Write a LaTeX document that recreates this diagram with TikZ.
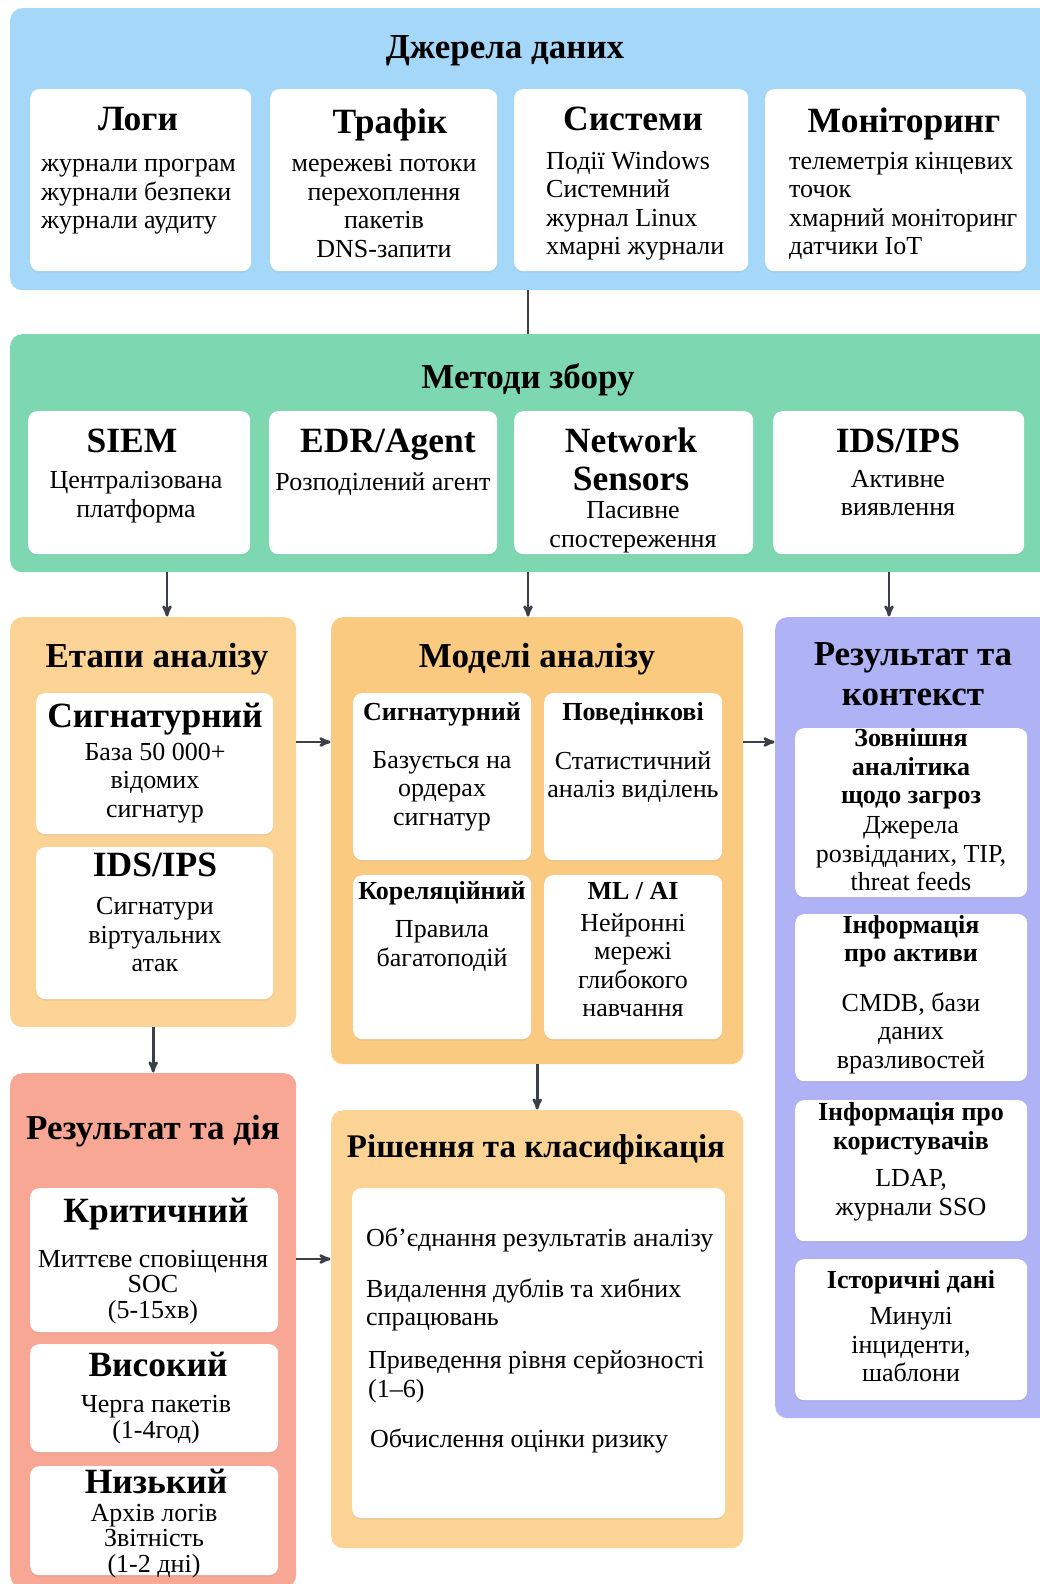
\documentclass[tikz,border=0pt]{standalone}
\usepackage{fontspec}
\setmainfont{Liberation Serif}
\usepackage{tikz}
\usetikzlibrary{arrows, positioning, shadows}

\definecolor{srcblue}{HTML}{A5D7F8}
\definecolor{colgreen}{HTML}{7DD8B2}
\definecolor{stageorange}{HTML}{FBD394}
\definecolor{modelorange}{HTML}{F9CA80}
\definecolor{ctxpurple}{HTML}{AFB3F6}
\definecolor{actred}{HTML}{F8A794}
\definecolor{arrowgray}{HTML}{3B4048}

\tikzset{
  panel/.style={rounded corners=12pt, inner sep=0pt, anchor=north west},
  card/.style={fill=white, rounded corners=9pt, inner sep=0pt, anchor=north west,
    drop shadow={opacity=0.12, shadow xshift=0pt, shadow yshift=-1.5pt}},
  mtitle/.style={font=\bfseries\fontsize{35}{40}\selectfont, align=center, inner sep=0pt},
  ptitle/.style={mtitle, text height=27pt, text depth=5pt},
  ctitle/.style={ptitle, font=\bfseries\fontsize{35.5}{40}\selectfont},
  stitle/.style={font=\bfseries\fontsize{26}{28.5}\selectfont, align=center, inner sep=0pt},
  body/.style={font=\fontsize{26}{28.5}\selectfont, align=center, inner sep=0pt},
  lbody/.style={body, align=left, anchor=west},
  tbody/.style={body, font=\fontsize{26}{25.8}\selectfont},
  flow/.style={line width=2.6pt, draw=arrowgray}
}

\begin{document}
\begin{tikzpicture}[x=1pt, y=-1pt,
    >=stealth',
    shorten >=0.5pt]

  \fill[white] (0,0) rectangle (1040,1584);
  \useasboundingbox (0,0) rectangle (1040,1584);

  % panels
  \node[panel, fill=srcblue, minimum width=1045, minimum height=282] (src) at (10,8) {};
  \node[panel, fill=colgreen, minimum width=1045, minimum height=238] (col) at (10,334) {};
  \node[panel, fill=stageorange, minimum width=286, minimum height=410] (stage) at (10,617) {};
  \node[panel, fill=modelorange, minimum width=412, minimum height=447] (model) at (331,617) {};
  \node[panel, fill=ctxpurple, minimum width=280, minimum height=801] (ctx) at (775,617) {};
  \node[panel, fill=actred, minimum width=286, minimum height=514] (act) at (10,1073) {};
  \node[panel, fill=stageorange, minimum width=412, minimum height=438] (dec) at (331,1110) {};

  % data sources
  \node[ptitle] (src-t) at (505,48) {Джерела даних};
  \node[card, minimum width=221, minimum height=182] (logs) at (30,89) {};
  \node[card, minimum width=227, minimum height=182] (traffic) at (270,89) {};
  \node[card, minimum width=234, minimum height=182] (systems) at (514,89) {};
  \node[card, minimum width=261, minimum height=182] (monitor) at (765,89) {};
  \node[ctitle] (logs-t) at (138,120) {Логи};
  \node[lbody] (logs-b) at (41,197) {журнали програм\\журнали безпеки\\журнали аудиту};
  \node[ctitle] (traffic-t) at (390,122) {Трафік};
  \node[body] (traffic-b) at (384,206) {мережеві потоки\\перехоплення\\пакетів\\DNS-запити};
  \node[ctitle] (systems-t) at (633,120) {Системи};
  \node[lbody] (systems-b) at (546,206) {Події Windows\\Системний\\журнал Linux\\хмарні журнали};
  \node[ctitle] (monitor-t) at (904,121) {Моніторинг};
  \node[lbody] (monitor-b) at (789,206) {телеметрія кінцевих\\точок\\хмарний моніторинг\\датчики IoT};

  % collection methods
  \node[ptitle] (col-t) at (528,377) {Методи збору};
  \node[card, minimum width=222, minimum height=143] (siem) at (28,411) {};
  \node[card, minimum width=228, minimum height=143] (edr) at (269,411) {};
  \node[card, minimum width=239, minimum height=143] (netsens) at (514,411) {};
  \node[card, minimum width=251, minimum height=143] (idsips) at (773,411) {};
  \node[ctitle] (siem-t) at (132,441) {SIEM};
  \node[body] (siem-b) at (136,497) {Централізована\\платформа};
  \node[ctitle] (edr-t) at (388,441) {EDR/Agent};
  \node[body] (edr-b) at (383,484) {Розподілений агент};
  \node[mtitle, font=\bfseries\fontsize{35.5}{38}\selectfont] (netsens-t) at (631,459) {Network\\Sensors};
  \node[body] (netsens-b) at (633,527) {Пасивне\\спостереження};
  \node[ctitle] (idsips-t) at (898,441) {IDS/IPS};
  \node[body] (idsips-b) at (898,493) {Активне\\виявлення};

  % analysis stages
  \node[ptitle] (stage-t) at (157,656) {Етапи аналізу};
  \node[card, minimum width=237, minimum height=141] (sig) at (36,693) {};
  \node[card, minimum width=237, minimum height=152] (ids) at (36,847) {};
  \node[ctitle] (sig-t) at (155,716) {Сигнатурний};
  \node[body] (sig-b) at (155,783) {База 50 000+\\відомих\\сигнатур};
  \node[ctitle] (ids-t) at (155,865) {IDS/IPS};
  \node[body] (ids-b) at (155,935) {Сигнатури\\віртуальних\\атак};

  % analysis models
  \node[ptitle] (model-t) at (537,656) {Моделі аналізу};
  \node[card, minimum width=178, minimum height=167] (msig) at (353,693) {};
  \node[card, minimum width=178, minimum height=167] (mbeh) at (544,693) {};
  \node[card, minimum width=178, minimum height=164] (mcor) at (353,875) {};
  \node[card, minimum width=178, minimum height=164] (mml) at (544,875) {};
  \node[stitle] (msig-t) at (442,714) {Сигнатурний};
  \node[body] (msig-b) at (442,791) {Базується на\\ордерах\\сигнатур};
  \node[stitle] (mbeh-t) at (633,714) {Поведінкові};
  \node[body] (mbeh-b) at (633,777) {Статистичний\\аналіз виділень};
  \node[stitle] (mcor-t) at (442,893) {Кореляційний};
  \node[body] (mcor-b) at (442,946) {Правила\\багатоподій};
  \node[stitle] (mml-t) at (633,891) {ML / AI};
  \node[body] (mml-b) at (633,965) {Нейронні\\мережі\\глибокого\\навчання};

  % context
  \node[mtitle] (ctx-t) at (913,674) {Результат та\\контекст};
  \node[card, minimum width=232, minimum height=169] (ext) at (795,728) {};
  \node[card, minimum width=232, minimum height=167] (asset) at (795,914) {};
  \node[card, minimum width=232, minimum height=141] (user) at (795,1100) {};
  \node[card, minimum width=232, minimum height=141] (hist) at (795,1259) {};
  \node[stitle] (ext-t) at (911,769) {Зовнішня\\аналітика\\щодо загроз};
  \node[body] (ext-b) at (911,854) {Джерела\\розвідданих, TIP,\\threat feeds};
  \node[stitle] (asset-t) at (911,941) {Інформація\\про активи};
  \node[body] (asset-b) at (911,1033) {CMDB, бази\\даних\\вразливостей};
  \node[stitle] (user-t) at (911,1129) {Інформація про\\користувачів};
  \node[body] (user-b) at (911,1195) {LDAP,\\журнали SSO};
  \node[stitle] (hist-t) at (911,1282) {Історичні дані};
  \node[body] (hist-b) at (911,1345) {Минулі\\інциденти,\\шаблони};

  % result and action
  \node[ptitle] (act-t) at (153,1128) {Результат та дія};
  \node[card, minimum width=248, minimum height=144] (crit) at (30,1188) {};
  \node[card, minimum width=248, minimum height=108] (high) at (30,1344) {};
  \node[card, minimum width=248, minimum height=109] (low) at (30,1466) {};
  \node[ctitle] (crit-t) at (156,1211) {Критичний};
  \node[tbody] (crit-b) at (153,1287) {Миттєве сповіщення\\SOC\\(5-15хв)};
  \node[ctitle] (high-t) at (158,1365) {Високий};
  \node[tbody] (high-b) at (156,1420) {Черга пакетів\\(1-4год)};
  \node[ctitle] (low-t) at (156,1482) {Низький};
  \node[tbody] (low-b) at (154,1541) {Архів логів\\Звітність\\(1-2 дні)};

  % decision
  \node[ptitle, font=\bfseries\fontsize{33}{40}\selectfont] (dec-t) at (536,1146) {Рішення та класифікація};
  \node[card, minimum width=373, minimum height=330] (decbox) at (352,1188) {};
  \node[lbody] (dec-a) at (366,1240) {Об’єднання результатів аналізу};
  \node[lbody] (dec-b) at (366,1305) {Видалення дублів та хибних\\спрацювань};
  \node[lbody] (dec-c) at (368,1377) {Приведення рівня серйозності\\(1–6)};
  \node[lbody] (dec-d) at (370,1441) {Обчислення оцінки ризику};

  % connectors
  \coordinate (xleft) at (167,0);
  \coordinate (xmid) at (528,0);
  \coordinate (xright) at (889,0);
  \coordinate (yup) at (0,742);
  \coordinate (ylow) at (0,1259);

  \draw[flow] (src.south -| xmid) -- (col.north -| xmid);
  \draw[flow, ->] (col.south -| xleft) -- (stage.north -| xleft);
  \draw[flow, ->] (col.south -| xmid) -- (model.north -| xmid);
  \draw[flow, ->] (col.south -| xright) -- (ctx.north -| xright);
  \draw[flow, ->] (stage.east |- yup) -- (model.west |- yup);
  \draw[flow, ->] (model.east |- yup) -- (ctx.west |- yup);
  \draw[flow, ->] (stage.south) -- (act.north);
  \draw[flow, ->] (model.south) -- (dec.north);
  \draw[flow, ->] (act.east |- ylow) -- (dec.west |- ylow);
\end{tikzpicture}
\end{document}
